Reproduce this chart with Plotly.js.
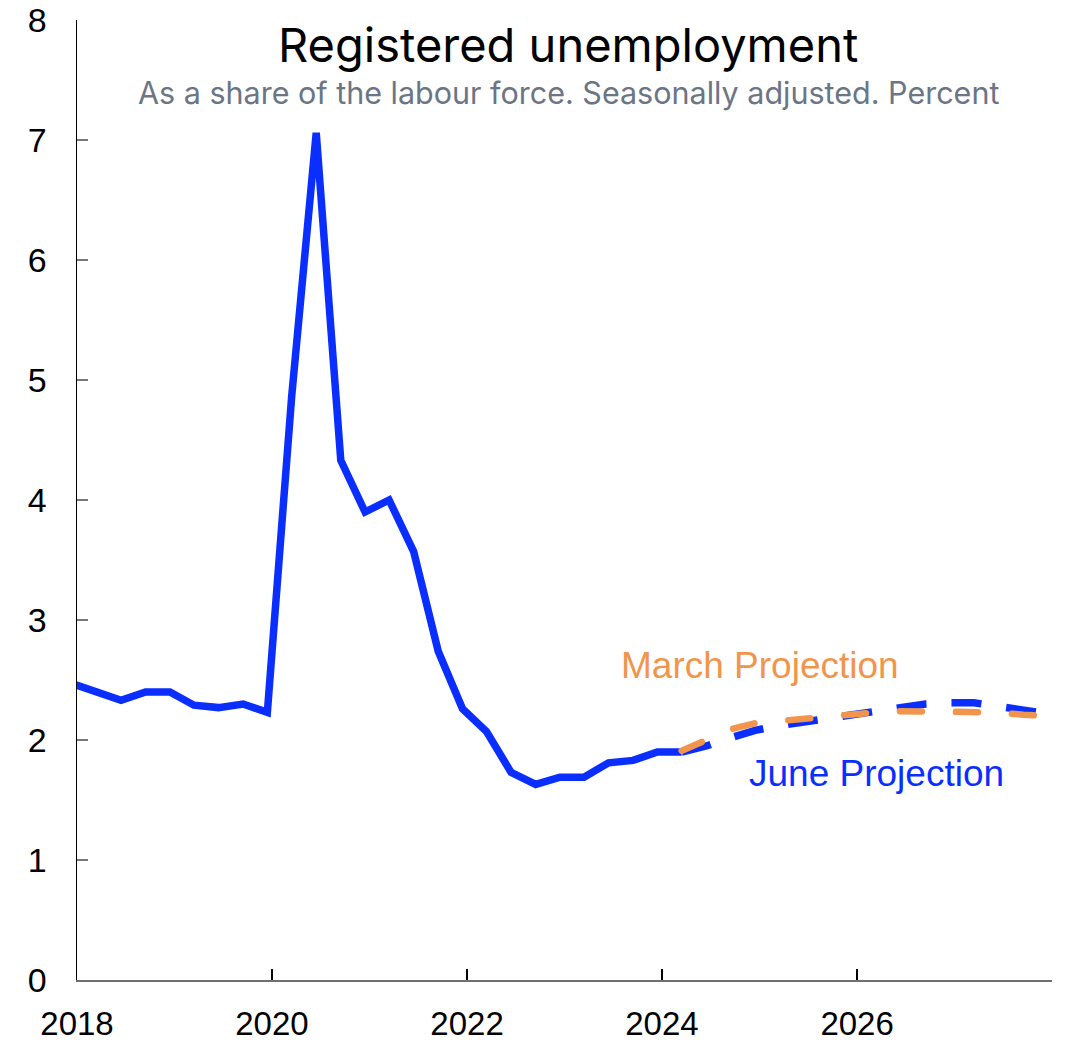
<!DOCTYPE html>
<html>
<head>
<meta charset="utf-8">
<script src="https://cdn.plot.ly/plotly-3.0.1.min.js"></script>
<style>
html,body{margin:0;padding:0;background:#fff;}
#chart{width:1067px;height:1044px;}
.scatterlayer .trace:nth-child(3) .js-line{stroke-linecap:round;}
</style>
</head>
<body>
<div id="chart"></div>
<script>
// Quarterly dates (plotted mid last month of each quarter)
const histDates = ['2017-12-15','2018-03-15','2018-06-15','2018-09-15','2018-12-15',
  '2019-03-15','2019-06-15','2019-09-15','2019-12-15',
  '2020-03-15','2020-06-15','2020-09-15','2020-12-15',
  '2021-03-15','2021-06-15','2021-09-15','2021-12-15',
  '2022-03-15','2022-06-15','2022-09-15','2022-12-15',
  '2023-03-15','2023-06-15','2023-09-15','2023-12-15','2024-03-15'];
const histValues = [2.47,2.40,2.33,2.40,2.40,
  2.29,2.27,2.30,2.23,
  4.86,7.06,4.33,3.90,
  4.00,3.57,2.74,2.26,
  2.07,1.73,1.63,1.69,
  1.69,1.81,1.83,1.90,1.90];

const projDates = ['2024-03-15','2024-06-15','2024-09-15','2024-12-15',
  '2025-03-15','2025-06-15','2025-09-15','2025-12-15',
  '2026-03-15','2026-06-15','2026-09-15','2026-12-15',
  '2027-03-15','2027-06-15','2027-09-15','2027-12-15'];
const juneValues = [1.90,1.95,2.02,2.08,2.12,2.15,2.18,2.21,2.24,2.27,2.30,2.31,2.31,2.28,2.25,2.22];
const marchValues = [1.91,2.00,2.09,2.14,2.16,2.17,2.19,2.21,2.23,2.24,2.24,2.24,2.24,2.23,2.21,2.20];

const xTickVals = ['2018-01-01','2020-01-01','2022-01-01','2024-01-01','2026-01-01','2028-01-01'];
const xTickText = ['2018','2020','2022','2024','2026',''];

const BLUE = '#0A2EFF';
const ORANGE = '#F0954B';

const traces = [
  {x: histDates, y: histValues, type:'scatter', mode:'lines',
   line:{color:BLUE, width:7.5}, hoverinfo:'skip', showlegend:false},
  {x: projDates, y: juneValues, type:'scatter', mode:'lines',
   line:{color:BLUE, width:7.5, dash:'30px,25px'}, hoverinfo:'skip', showlegend:false},
  {x: projDates, y: marchValues, type:'scatter', mode:'lines',
   line:{color:ORANGE, width:6.5, dash:'22px,34px'}, hoverinfo:'skip', showlegend:false}
];

const layout = {
  width:1067, height:1044,
  margin:{l:77, r:15, t:20, b:64},
  paper_bgcolor:'#fff', plot_bgcolor:'#fff',
  font:{family:'Liberation Sans, Arial, sans-serif', color:'#000'},
  xaxis:{type:'date', range:['2018-01-01','2028-01-01'],
    tickmode:'array', tickvals:xTickVals, ticktext:xTickText,
    showgrid:false, zeroline:false, showline:true, linecolor:'#6f6f6f', linewidth:2,
    ticks:'inside', ticklen:11, tickcolor:'#000', tickwidth:1.5,
    tickfont:{size:33, color:'#000'}, ticklabelstandoff:13, fixedrange:true},
  yaxis:{range:[0,8], dtick:1, tick0:0,
    showgrid:false, zeroline:false, showline:true, linecolor:'#000', linewidth:1.5,
    ticks:'inside', ticklen:11, tickcolor:'#777', tickwidth:1.5,
    tickfont:{size:34, color:'#000'}, ticklabelstandoff:22, fixedrange:true},
  annotations:[
    {text:'Registered unemployment', xref:'paper', yref:'paper', x:0.504, y:0.974,
     xanchor:'center', yanchor:'middle', showarrow:false,
     font:{family:'Inter, Noto Sans, sans-serif', size:47, color:'#000'}},
    {text:'As a share of the labour force. Seasonally adjusted. Percent', xref:'paper', yref:'paper', x:0.504, y:0.924,
     xanchor:'center', yanchor:'middle', showarrow:false,
     font:{family:'Inter, Noto Sans, sans-serif', size:30.5, color:'#6B7585'}},
    {text:'March Projection', xref:'paper', yref:'y', x:0.7005, y:2.617,
     xanchor:'center', yanchor:'middle', showarrow:false,
     font:{family:'Liberation Sans, Arial, sans-serif', size:37, color:ORANGE}},
    {text:'June Projection', xref:'paper', yref:'y', x:0.8195, y:1.725,
     xanchor:'center', yanchor:'middle', showarrow:false,
     font:{family:'Liberation Sans, Arial, sans-serif', size:37, color:BLUE}}
  ]
};

Plotly.newPlot('chart', traces, layout, {staticPlot:true, displayModeBar:false});
</script>
</body>
</html>
